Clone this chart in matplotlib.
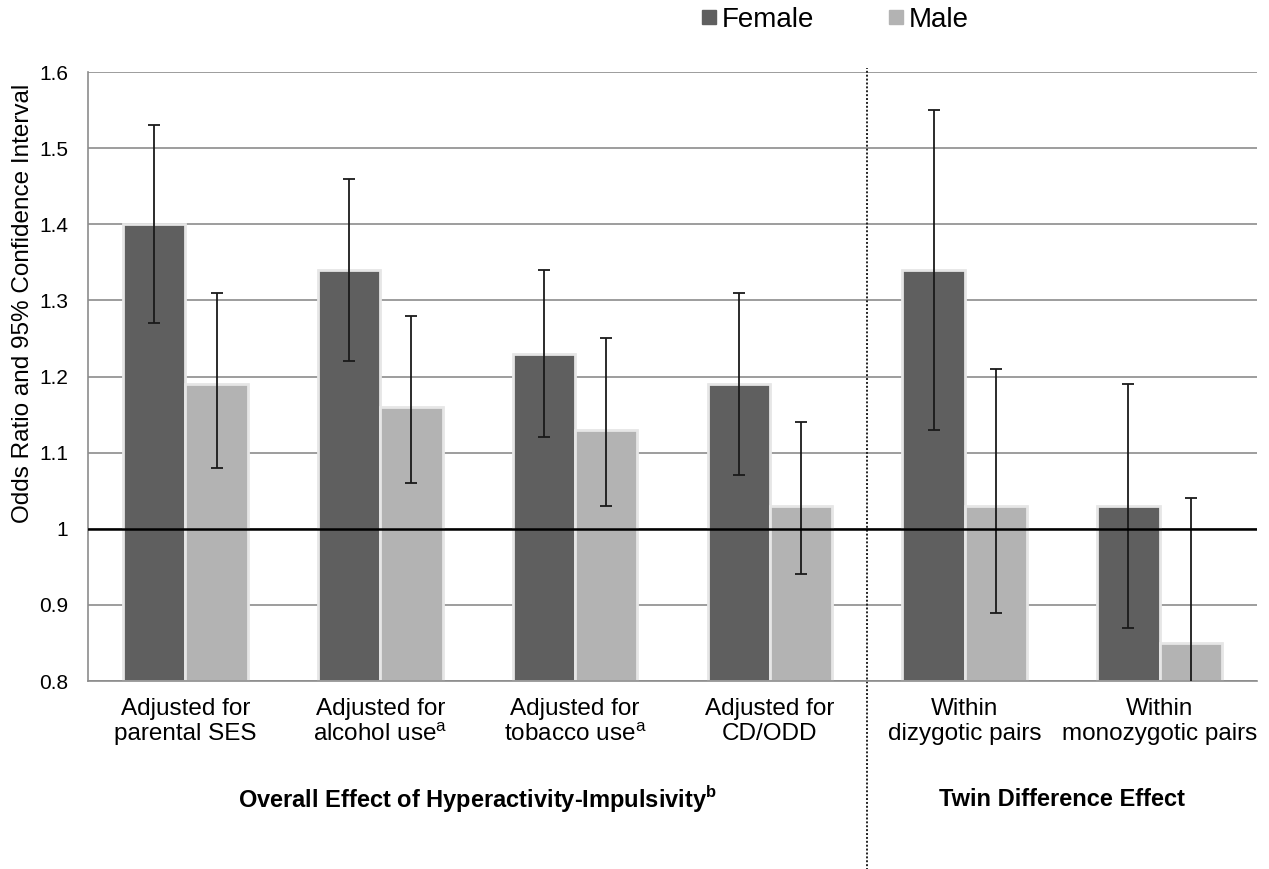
import matplotlib.pyplot as plt
from matplotlib.lines import Line2D
import numpy as np

plt.rcParams['font.family'] = ['Liberation Sans', 'DejaVu Sans']
plt.rcParams['mathtext.fontset'] = 'custom'
plt.rcParams['mathtext.rm'] = 'Liberation Sans'
plt.rcParams['mathtext.bf'] = 'Liberation Sans:bold'

categories = ["Adjusted for\nparental SES",
              "Adjusted for\nalcohol use$^\\mathrm{a}$",
              "Adjusted for\ntobacco use$^\\mathrm{a}$",
              "Adjusted for\nCD/ODD",
              "Within\ndizygotic pairs",
              "Within\nmonozygotic pairs"]

female_or = [1.40, 1.34, 1.23, 1.19, 1.34, 1.03]
female_lo = [1.27, 1.22, 1.12, 1.07, 1.13, 0.87]
female_hi = [1.53, 1.46, 1.34, 1.31, 1.55, 1.19]

male_or = [1.19, 1.16, 1.13, 1.03, 1.03, 0.85]
male_lo = [1.08, 1.06, 1.03, 0.94, 0.89, 0.70]
male_hi = [1.31, 1.28, 1.25, 1.14, 1.21, 1.04]

female_col = '#5f5f5f'
male_col = '#b3b3b3'
base = 0.8

fig = plt.figure(figsize=(12.69, 8.69), dpi=100)
ax = fig.add_axes([0.0693, 0.2163, 0.9212, 0.7008])

x = np.arange(len(categories))
w = 0.32

def draw(xpos, vals, lo, hi, color):
    vals = np.array(vals)
    ax.bar(xpos, vals - base, bottom=base, width=w, color=color,
           edgecolor='#e6e6e6', linewidth=2, zorder=2)
    yerr = [vals - np.array(lo), np.array(hi) - vals]
    ax.errorbar(xpos, vals, yerr=yerr, fmt='none', ecolor='#1a1a1a',
                elinewidth=1.3, capsize=4, capthick=1.3, zorder=3)

draw(x - w / 2, female_or, female_lo, female_hi, female_col)
draw(x + w / 2, male_or, male_lo, male_hi, male_col)

ax.axhline(1.0, color='black', linewidth=1.8, zorder=4)

ax.set_xlim(-0.5, 5.5)
ax.set_ylim(0.8, 1.6)
ax.set_yticks(np.arange(0.8, 1.61, 0.1))
ax.set_yticklabels(['0.8', '0.9', '1', '1.1', '1.2', '1.3', '1.4', '1.5', '1.6'])
ax.yaxis.grid(True, color='#8c8c8c', linewidth=1.2, zorder=0)
ax.set_axisbelow(True)
ax.set_xticks(x)
ax.set_xticklabels(categories, fontsize=17.5, linespacing=1.2)
ax.tick_params(axis='y', labelsize=15, length=0, pad=14)
ax.tick_params(axis='x', length=0, pad=12)

for s in ['top', 'right']:
    ax.spines[s].set_visible(False)
for s in ['left', 'bottom']:
    ax.spines[s].set_color('#8c8c8c')
    ax.spines[s].set_linewidth(1.2)

ax.set_ylabel('Odds Ratio and 95% Confidence Interval', fontsize=17.5)
ax.yaxis.set_label_coords(-0.046, 0.62)

# dotted divider between the two effect groups
ax.plot([3.5, 3.5], [-0.31, 1.007], transform=ax.get_xaxis_transform(),
        color='#222222', linestyle=(0, (1, 1)), linewidth=1.4, clip_on=False)

ax.text(1.5, -0.195, 'Overall Effect of Hyperactivity-Impulsivity$^\\mathbf{b}$',
        transform=ax.get_xaxis_transform(), ha='center', va='center',
        fontsize=17, fontweight='bold')
ax.text(4.5, -0.195, 'Twin Difference Effect', transform=ax.get_xaxis_transform(),
        ha='center', va='center', fontsize=17, fontweight='bold')

handles = [Line2D([], [], marker='s', linestyle='none', markersize=10,
                  markerfacecolor=female_col, markeredgecolor=female_col),
           Line2D([], [], marker='s', linestyle='none', markersize=10,
                  markerfacecolor=male_col, markeredgecolor=male_col)]
fig.legend(handles, ['Female', 'Male'], loc='center', bbox_to_anchor=(0.657, 0.977),
           ncol=2, frameon=False, fontsize=20, handletextpad=0.1,
           columnspacing=2.6, handlelength=0.7)

fig.savefig('out.png', dpi=100)
